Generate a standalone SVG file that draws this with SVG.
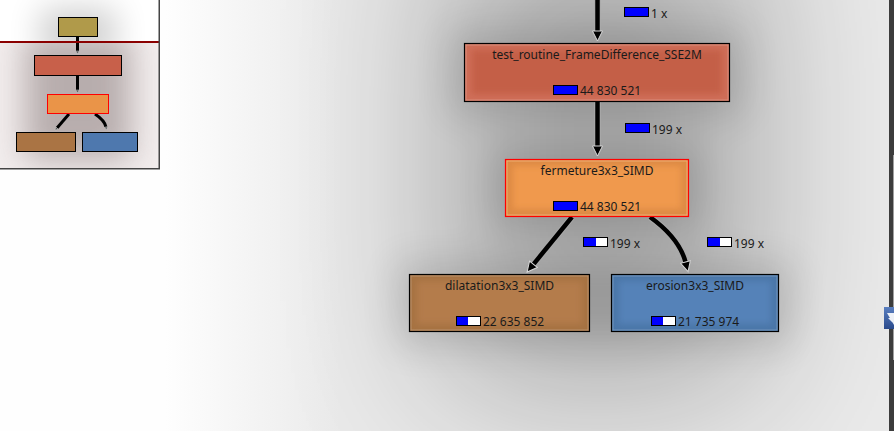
<svg xmlns="http://www.w3.org/2000/svg" width="894" height="431" viewBox="0 0 894 431">
<style>
.t{font-family:"Noto Sans","Open Sans","DejaVu Sans",sans-serif;font-size:12px;fill:#1a1a1a}
.mid{text-anchor:middle}
.bar{stroke:#000;stroke-width:1}
.nb{stroke:#000;stroke-width:1.2}
.halo{fill:none;stroke:#aaaaaa;stroke-width:6.5}
.edge{fill:none;stroke:#000;stroke-width:4.5}
.medge{fill:none;stroke:#000;stroke-width:3}
.inl{fill:none;stroke:#ffffff;stroke-opacity:0.22;stroke-width:1}
</style>
<defs>
<filter id="bigblur" filterUnits="userSpaceOnUse" x="-300" y="-300" width="1500" height="1100"><feGaussianBlur stdDeviation="80"/></filter>
<filter id="midblur" filterUnits="userSpaceOnUse" x="-200" y="-200" width="1300" height="900"><feGaussianBlur stdDeviation="18"/></filter>
<filter id="smblur" filterUnits="userSpaceOnUse" x="-100" y="-100" width="1100" height="700"><feGaussianBlur stdDeviation="3"/></filter>
<filter id="mmblur" filterUnits="userSpaceOnUse" x="-100" y="-100" width="400" height="400"><feGaussianBlur stdDeviation="16"/></filter>
<clipPath id="mmclip"><rect x="0" y="0" width="159" height="168"/></clipPath>
<clipPath id="mmlow"><rect x="0" y="42" width="159" height="126"/></clipPath>
<clipPath id="mmhigh"><rect x="0" y="0" width="159" height="42"/></clipPath>
<linearGradient id="base" gradientUnits="userSpaceOnUse" x1="165" y1="0" x2="340" y2="0"><stop offset="0" stop-color="#fefefe"/><stop offset="1" stop-color="#eaeaea"/></linearGradient>
<linearGradient id="icon" x1="0" y1="0" x2="0" y2="1"><stop offset="0" stop-color="#5a7fc0"/><stop offset="1" stop-color="#2a4a8c"/></linearGradient>
<marker id="arr" viewBox="0 0 12 12" markerWidth="12" markerHeight="12" refX="1" refY="6" orient="auto" markerUnits="userSpaceOnUse">
<path d="M1,1 L11,6 L1,11 Z" fill="#000" stroke="#d8d8d8" stroke-width="1"/>
</marker>
<marker id="marr" viewBox="0 0 6 6" markerWidth="4" markerHeight="4" refX="1" refY="3" orient="auto" markerUnits="userSpaceOnUse">
<path d="M1,0.5 L5.5,3 L1,5.5 Z" fill="#555" stroke="#ccc" stroke-width="0.8"/>
</marker>
</defs>

<!-- main background -->
<rect x="0" y="0" width="894" height="431" fill="url(#base)"/>
<g id="shadows">
<rect x="440" y="-80" width="320" height="470" fill="#000" opacity="0.28" filter="url(#bigblur)"/>
<g filter="url(#midblur)" opacity="0.13" fill="#000">
<rect x="450" y="30" width="294" height="86"/>
<rect x="492" y="146" width="210" height="84"/>
<rect x="396" y="262" width="207" height="84"/>
<rect x="598" y="262" width="194" height="84"/>
</g>
</g>

<!-- connectors -->
<g id="connectors">
<line class="halo" x1="597.5" y1="-5" x2="597.5" y2="31"/>
<line class="edge" x1="597.5" y1="-5" x2="597.5" y2="31" marker-end="url(#arr)"/>
<line class="halo" x1="597.5" y1="101" x2="597.5" y2="146"/>
<line class="edge" x1="597.5" y1="101" x2="597.5" y2="146" marker-end="url(#arr)"/>
<line class="halo" x1="572" y1="217" x2="533.4" y2="264.3"/>
<line class="edge" x1="572" y1="217" x2="533.4" y2="264.3" marker-end="url(#arr)"/>
<path class="halo" d="M650,217 C668,230 681,245 685.5,262"/>
<path class="edge" d="M650,217 C668,230 681,245 685.5,262" marker-end="url(#arr)"/>
<g id="edge-labels">
<rect class="bar" x="624.5" y="7.5" width="24" height="9" fill="#0000ff"/>
<text class="t" x="651" y="17.5">1 x</text>
<rect class="bar" x="625.5" y="123.5" width="24" height="9" fill="#0000ff"/>
<text class="t" x="652" y="133.5">199 x</text>
<rect class="bar" x="583.5" y="237.5" width="24" height="9" fill="#ffffff"/>
<rect x="584" y="238" width="12" height="8" fill="#0000ff"/>
<text class="t" x="610" y="247.5">199 x</text>
<rect class="bar" x="707.5" y="237.5" width="24" height="9" fill="#ffffff"/>
<rect x="708" y="238" width="12" height="8" fill="#0000ff"/>
<text class="t" x="734" y="247.5">199 x</text>
</g>
</g>

<!-- nodes -->
<g id="node-test_routine">
<rect x="464.5" y="43.5" width="265" height="58" fill="#cf6e58" class="nb"/>
<rect x="472" y="50" width="250" height="44" fill="#c45e47" filter="url(#smblur)"/>
<rect class="inl" x="466" y="45" width="262" height="55"/>
<text class="t mid" x="597" y="59">test_routine_FrameDifference_SSE2M</text>
<rect class="bar" x="553.5" y="85.5" width="24" height="9" fill="#0000ff"/>
<text class="t" x="580" y="95">44 830 521</text>
</g>

<g id="node-fermeture">
<rect x="505.5" y="159.5" width="183" height="57" fill="#dd8a44" stroke="#ff0000" stroke-width="1.2"/>
<rect x="513" y="166" width="168" height="43" fill="#f0994e" filter="url(#smblur)"/>
<rect x="507" y="161" width="180" height="54" fill="none" stroke="#ffd0a0" stroke-opacity="0.5" stroke-width="1"/>
<text class="t mid" x="597" y="175">fermeture3x3_SIMD</text>
<rect class="bar" x="553.5" y="201.5" width="24" height="9" fill="#0000ff"/>
<text class="t" x="580" y="211">44 830 521</text>
</g>

<g id="node-dilatation">
<rect x="409.5" y="274.5" width="180" height="57" fill="#a67242" class="nb"/>
<rect x="417" y="281" width="165" height="43" fill="#b47c4b" filter="url(#smblur)"/>
<rect class="inl" x="411" y="276" width="177" height="54"/>
<text class="t mid" x="499.5" y="290">dilatation3x3_SIMD</text>
<rect class="bar" x="456.5" y="316.5" width="24" height="9" fill="#ffffff"/>
<rect x="457" y="317" width="11" height="8" fill="#0000ff"/>
<text class="t" x="483" y="326">22 635 852</text>
</g>

<g id="node-erosion">
<rect x="611.5" y="274.5" width="167" height="57" fill="#4a76a8" class="nb"/>
<rect x="619" y="281" width="152" height="43" fill="#5482b8" filter="url(#smblur)"/>
<rect class="inl" x="613" y="276" width="164" height="54"/>
<text class="t mid" x="695" y="290">erosion3x3_SIMD</text>
<rect class="bar" x="651.5" y="316.5" width="24" height="9" fill="#ffffff"/>
<rect x="652" y="317" width="11" height="8" fill="#0000ff"/>
<text class="t" x="678" y="326">21 735 974</text>
</g>

<!-- right edge strip -->
<g id="scrollbar">
<rect x="889" y="0" width="5" height="431" fill="#3c3c3c"/>
<rect x="893" y="155" width="1" height="205" fill="#a0a0a0"/>
<rect x="884" y="307" width="10" height="22" fill="url(#icon)"/>
<path d="M887,313 L894,313 L894,325 Z M888,318 L893,318 L893,323 Z" fill="#ffffff" opacity="0.9"/>
</g>

<!-- minimap (panner) -->
<g id="panner">
<g clip-path="url(#mmclip)">
<rect x="0" y="0" width="159" height="168" fill="#ffffff"/>
<rect x="0" y="42" width="159" height="126" fill="#f2eded"/>
<g clip-path="url(#mmlow)">
<rect x="25" y="35" width="106" height="125" fill="#5a4646" opacity="0.38" filter="url(#mmblur)"/>
</g>
<g clip-path="url(#mmhigh)">
<rect x="40" y="8" width="76" height="50" fill="#000" opacity="0.18" filter="url(#mmblur)"/>
</g>
<g id="mm-edges">
<line class="medge" x1="77.5" y1="37" x2="77.5" y2="51" marker-end="url(#marr)"/>
<line class="medge" x1="77.5" y1="76" x2="77.5" y2="90" marker-end="url(#marr)"/>
<line class="medge" x1="69" y1="114" x2="57" y2="128" marker-end="url(#marr)"/>
<path class="medge" d="M95,114 C101,118 105,122 106,127" marker-end="url(#marr)"/>
</g>
<rect x="0" y="41" width="159" height="2" fill="#8b0000"/>
<g id="mm-nodes">
<rect x="58.5" y="17.5" width="39" height="19" fill="#b09a4a" stroke="#000" stroke-width="1"/>
<rect x="34.5" y="55.5" width="87" height="20" fill="#c8604a" stroke="#000" stroke-width="1"/>
<rect x="47.5" y="94.5" width="61" height="19" fill="#ea9448" stroke="#ff0000" stroke-width="1"/>
<rect x="16.5" y="132.5" width="59" height="19" fill="#aa7444" stroke="#000" stroke-width="1"/>
<rect x="82.5" y="132.5" width="55" height="19" fill="#4e78ae" stroke="#000" stroke-width="1"/>
</g>
</g>
<path d="M159.25,0 V168.75 H0" fill="none" stroke="#444" stroke-width="1.5"/>
</g>
</svg>
